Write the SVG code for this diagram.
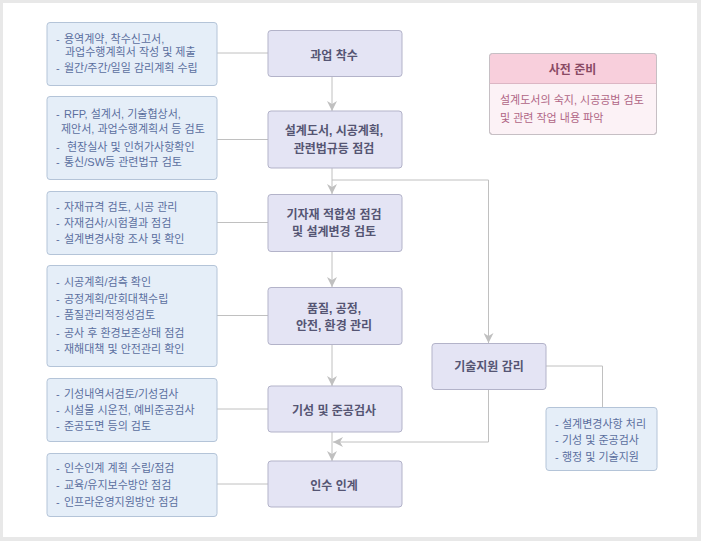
<svg xmlns="http://www.w3.org/2000/svg" width="701" height="541" viewBox="0 0 701 541">
<style>
text{font-family:"Liberation Sans","Noto Sans CJK KR",sans-serif}
.lb{fill:#e5eef8;stroke:#b4c4d8;stroke-width:1}
.lt{font-size:11px;fill:#5b6f9f}
.cn{fill:#e4e4f4;stroke:#b3b3c9;stroke-width:1}
.ct{font-size:12px;font-weight:bold;fill:#555573;text-anchor:middle}
.ln{fill:none;stroke:#c0c0c0;stroke-width:1}
.ph{fill:#f8cfdc}
.pb{fill:#fcf2f6}
.pt{font-size:12px;font-weight:bold;fill:#8a4a64;text-anchor:middle}
.pbt{font-size:11px;fill:#b06585}
</style>
<defs>
<marker id="ah" markerUnits="userSpaceOnUse" markerWidth="10" markerHeight="10" refX="10" refY="5" orient="auto">
<path d="M0,0 L10,5 L0,10 L3,5 Z" fill="#c0c0c0"/>
</marker>
</defs>
<rect x="0" y="0" width="701" height="541" fill="#e8e8e8"/>
<rect x="3" y="3" width="694" height="534" fill="#ffffff"/>

<g id="connectors">
<path class="ln" d="M217,53 H268"/>
<path class="ln" d="M217,139.5 H268"/>
<path class="ln" d="M217,222.5 H268"/>
<path class="ln" d="M217,315.5 H268"/>
<path class="ln" d="M217,409 H268"/>
<path class="ln" d="M217,484 H268"/>
<path class="ln" d="M332,77 V111" marker-end="url(#ah)"/>
<path class="ln" d="M332,168 V194" marker-end="url(#ah)"/>
<path class="ln" d="M332,251 V287" marker-end="url(#ah)"/>
<path class="ln" d="M332,344 V386" marker-end="url(#ah)"/>
<path class="ln" d="M332,432 V461" marker-end="url(#ah)"/>
<path class="ln" d="M332,180 H488.5 V343" marker-end="url(#ah)"/>
<path class="ln" d="M488.5,389 V442 H333" marker-end="url(#ah)"/>
<path class="ln" d="M546,366 H602.5 V407"/>
</g>

<g id="prep">
<rect x="489.5" y="53.5" width="167" height="81" rx="3" class="pb" stroke="#c6bfc4"/>
<path d="M489.5,83.5 V56.5 a3,3 0 0 1 3,-3 H653.5 a3,3 0 0 1 3,3 V83.5 Z" class="ph"/>
<rect x="489.5" y="53.5" width="167" height="81" rx="3" fill="none" stroke="#c6bfc4"/>
<line x1="489.5" y1="83.5" x2="656.5" y2="83.5" stroke="#dcb6c4"/>
<text class="pt" x="572.5" y="74">사전 준비</text>
<text class="pbt" x="500" y="104">설계도서의 숙지, 시공공법 검토</text>
<text class="pbt" x="500" y="122">및 관련 작업 내용 파악</text>
</g>

<g id="n1">
<rect class="cn" x="268" y="30.5" width="134" height="46" rx="3"/>
<text class="ct" x="334" y="59.5">과업 착수</text>
</g>
<g id="n2">
<rect class="cn" x="268" y="111" width="134" height="57" rx="3"/>
<text class="ct" x="334" y="135">설계도서, 시공계획,</text>
<text class="ct" x="334" y="153">관련법규등 점검</text>
</g>
<g id="n3">
<rect class="cn" x="268" y="194.5" width="134" height="57" rx="3"/>
<text class="ct" x="334" y="219">기자재 적합성 점검</text>
<text class="ct" x="334" y="235.5">및 설계변경 검토</text>
</g>
<g id="n4">
<rect class="cn" x="268" y="287.5" width="134" height="57" rx="3"/>
<text class="ct" x="334" y="313">품질, 공정,</text>
<text class="ct" x="334" y="329.5">안전, 환경 관리</text>
</g>
<g id="n5">
<rect class="cn" x="268" y="386" width="134" height="46" rx="3"/>
<text class="ct" x="334" y="414.5">기성 및 준공검사</text>
</g>
<g id="n6">
<rect class="cn" x="268" y="461" width="134" height="46" rx="3"/>
<text class="ct" x="334" y="489.5">인수 인계</text>
</g>
<g id="tech">
<rect class="cn" x="432" y="343.5" width="114" height="46" rx="3"/>
<text class="ct" x="489" y="370.5">기술지원 감리</text>
</g>

<g id="b1">
<rect class="lb" x="47" y="22.5" width="170" height="63" rx="3"/>
<text class="lt" x="56" y="43">-</text><text class="lt" x="64" y="43">용역계약, 착수신고서,</text>
<text class="lt" x="65" y="56">과업수행계획서 작성 및 제출</text>
<text class="lt" x="56" y="72">-</text><text class="lt" x="64" y="72">월간/주간/일일 감리계획 수립</text>
</g>
<g id="b2">
<rect class="lb" x="47" y="96.5" width="170" height="83" rx="3"/>
<text class="lt" x="56" y="118">-</text><text class="lt" x="64" y="118">RFP, 설계서, 기술협상서,</text>
<text class="lt" x="61" y="133">제안서, 과업수행계획서 등 검토</text>
<text class="lt" x="56" y="150.5">-</text><text class="lt" x="67" y="150.5">현장실사 및 인허가사항확인</text>
<text class="lt" x="56" y="166">-</text><text class="lt" x="64" y="166">통신/SW등 관련법규 검토</text>
</g>
<g id="b3">
<rect class="lb" x="47" y="191.5" width="170" height="63" rx="3"/>
<text class="lt" x="56" y="211">-</text><text class="lt" x="64" y="211">자재규격 검토, 시공 관리</text>
<text class="lt" x="56" y="226.5">-</text><text class="lt" x="64" y="226.5">자재검사/시험결과 점검</text>
<text class="lt" x="56" y="243">-</text><text class="lt" x="64" y="243">설계변경사항 조사 및 확인</text>
</g>
<g id="b4">
<rect class="lb" x="47" y="265.5" width="170" height="101" rx="3"/>
<text class="lt" x="56" y="286">-</text><text class="lt" x="64" y="286">시공계획/검측 확인</text>
<text class="lt" x="56" y="302.5">-</text><text class="lt" x="64" y="302.5">공정계획/만회대책수립</text>
<text class="lt" x="56" y="319">-</text><text class="lt" x="64" y="319">품질관리적정성검토</text>
<text class="lt" x="56" y="336.5">-</text><text class="lt" x="64" y="336.5">공사 후 환경보존상태 점검</text>
<text class="lt" x="56" y="353">-</text><text class="lt" x="64" y="353">재해대책 및 안전관리 확인</text>
</g>
<g id="b5">
<rect class="lb" x="47" y="378.5" width="170" height="63" rx="3"/>
<text class="lt" x="56" y="397.5">-</text><text class="lt" x="64" y="397.5">기성내역서검토/기성검사</text>
<text class="lt" x="56" y="414">-</text><text class="lt" x="64" y="414">시설물 시운전, 예비준공검사</text>
<text class="lt" x="56" y="430">-</text><text class="lt" x="64" y="430">준공도면 등의 검토</text>
</g>
<g id="b6">
<rect class="lb" x="47" y="453.5" width="170" height="63" rx="3"/>
<text class="lt" x="56" y="472">-</text><text class="lt" x="64" y="472">인수인계 계획 수립/점검</text>
<text class="lt" x="56" y="488.5">-</text><text class="lt" x="64" y="488.5">교육/유지보수방안 점검</text>
<text class="lt" x="56" y="505.5">-</text><text class="lt" x="64" y="505.5">인프라운영지원방안 점검</text>
</g>
<g id="b7">
<rect class="lb" x="546" y="407.5" width="111" height="63" rx="3"/>
<text class="lt" x="555" y="427.5">-</text><text class="lt" x="562" y="427.5">설계변경사항 처리</text>
<text class="lt" x="555" y="443.5">-</text><text class="lt" x="562" y="443.5">기성 및 준공검사</text>
<text class="lt" x="555" y="460.5">-</text><text class="lt" x="562" y="460.5">행정 및 기술지원</text>
</g>
</svg>
